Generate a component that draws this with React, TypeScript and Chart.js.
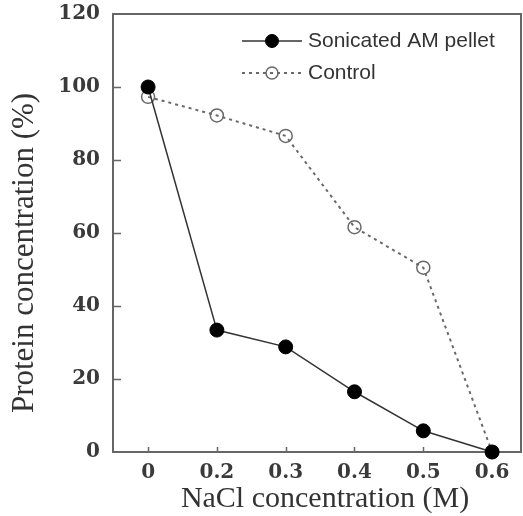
import React, { useEffect, useRef } from 'react';
import { Chart, registerables } from 'chart.js';

Chart.register(...registerables);

const xLabels = ['0', '0.2', '0.3', '0.4', '0.5', '0.6'];
const sonicatedValues = [100, 33.4, 28.8, 16.5, 5.8, 0];
const controlValues = [97.3, 92.2, 86.6, 61.6, 50.5, 0];
const seriesNames = ['Sonicated AM pellet', 'Control'];
const yTickValues = [0, 20, 40, 60, 80, 100, 120];
const xTitle = 'NaCl concentration (M)';
const yTitle = 'Protein concentration (%)';

const frameColor = '#666666';
const textColor = '#333333';

const framePlugin = {
  id: 'frameTicks',
  beforeDatasetsDraw(chart: any) {
    const { ctx, chartArea, scales } = chart;
    const { left, right, top, bottom } = chartArea;
    ctx.save();
    ctx.strokeStyle = frameColor;
    ctx.lineWidth = 2;
    ctx.strokeRect(left, top, right - left, bottom - top);
    ctx.lineWidth = 1.5;
    ctx.beginPath();
    scales.y.ticks.forEach((t: any) => {
      if (t.value <= 0 || t.value >= 120) return;
      const py = Math.round(scales.y.getPixelForValue(t.value)) + 0.5;
      ctx.moveTo(left, py);
      ctx.lineTo(left + 8, py);
    });
    scales.x.ticks.forEach((t: any) => {
      const px = Math.round(scales.x.getPixelForValue(t.value)) + 0.5;
      ctx.moveTo(px, bottom);
      ctx.lineTo(px, bottom - 5);
    });
    ctx.stroke();
    ctx.restore();
  },
};

const titlesLegendPlugin = {
  id: 'titlesLegend',
  afterDraw(chart: any) {
    const { ctx, chartArea } = chart;
    const { left, right, top, bottom } = chartArea;
    ctx.save();
    // axis titles
    ctx.fillStyle = textColor;
    ctx.textAlign = 'center';
    ctx.textBaseline = 'middle';
    ctx.font = '30px "Liberation Serif", serif';
    ctx.fillText(xTitle, (left + right) / 2 + 8, bottom + 47);
    ctx.save();
    ctx.font = '31px "Liberation Serif", serif';
    ctx.translate(left - 88, (top + bottom) / 2 + 20);
    ctx.rotate(-Math.PI / 2);
    ctx.fillText(yTitle, 0, 0);
    ctx.restore();

    // legend
    const ds = chart.data.datasets;
    const x0 = left + 129;
    const x1 = left + 189;
    const xm = left + 159;
    const rows = [top + 27, top + 59];
    ds.forEach((d: any, i: number) => {
      const y = rows[i];
      ctx.save();
      ctx.strokeStyle = d.borderColor;
      ctx.lineWidth = d.borderWidth;
      ctx.setLineDash(d.borderDash || []);
      ctx.beginPath();
      ctx.moveTo(x0, y);
      ctx.lineTo(x1, y);
      ctx.stroke();
      ctx.setLineDash([]);
      ctx.beginPath();
      ctx.arc(xm, y, d.pointRadius - 0.5, 0, Math.PI * 2);
      ctx.fillStyle = d.pointBackgroundColor;
      ctx.fill();
      ctx.lineWidth = d.pointBorderWidth;
      ctx.strokeStyle = d.pointBorderColor;
      ctx.stroke();
      ctx.restore();
      ctx.fillStyle = textColor;
      ctx.font = '21px "Liberation Sans", sans-serif';
      ctx.textAlign = 'left';
      ctx.textBaseline = 'middle';
      ctx.fillText(d.label, x1 + 6, y);
    });
    ctx.restore();
  },
};

export default function App() {
  const canvasRef = useRef<HTMLCanvasElement | null>(null);

  useEffect(() => {
    if (!canvasRef.current) return;
    const chart = new Chart(canvasRef.current, {
      type: 'line',
      data: {
        datasets: [
          {
            label: seriesNames[0],
            data: sonicatedValues.map((y, i) => ({ x: i, y })),
            borderColor: '#333333',
            borderWidth: 1.5,
            pointRadius: 7,
            pointHoverRadius: 7,
            pointBackgroundColor: '#000000',
            pointBorderColor: '#000000',
            pointBorderWidth: 1,
            tension: 0,
            fill: false,
            clip: false,
          },
          {
            label: seriesNames[1],
            data: controlValues.map((y, i) => ({ x: i, y })),
            borderColor: '#6a6a6a',
            borderWidth: 2,
            borderDash: [3, 4],
            pointRadius: 6.5,
            pointHoverRadius: 6.5,
            pointBackgroundColor: 'rgba(255,255,255,0)',
            pointBorderColor: '#6a6a6a',
            pointBorderWidth: 1.5,
            tension: 0,
            fill: false,
            clip: false,
          },
        ],
      } as any,
      options: {
        animation: false,
        responsive: false,
        events: [],
        layout: { autoPadding: false, padding: { left: 0, right: 2, top: 14, bottom: 0 } },
        plugins: { legend: { display: false }, tooltip: { enabled: false } },
        scales: {
          x: {
            type: 'linear',
            min: -0.51,
            max: 5.42,
            afterBuildTicks: (scale: any) => {
              scale.ticks = xLabels.map((_, i) => ({ value: i }));
            },
            afterFit: (scale: any) => {
              scale.height = 64;
              scale.paddingLeft = 0;
              scale.paddingRight = 0;
            },
            grid: { display: false, drawTicks: false },
            border: { display: false },
            ticks: {
              autoSkip: false,
              maxRotation: 0,
              padding: 9,
              color: '#3a3a3a',
              font: { family: '"DejaVu Serif", serif', size: 20, weight: 'bold' },
              callback: (v: any) => xLabels[v] ?? '',
            },
          },
          y: {
            type: 'linear',
            min: 0,
            max: 120,
            afterBuildTicks: (scale: any) => {
              scale.ticks = yTickValues.map((v) => ({ value: v }));
            },
            afterFit: (scale: any) => {
              scale.width = 113;
              scale.paddingTop = 0;
              scale.paddingBottom = 0;
            },
            grid: { display: false, drawTicks: false },
            border: { display: false },
            ticks: {
              padding: 13,
              color: '#3a3a3a',
              font: { family: '"DejaVu Serif", serif', size: 20, weight: 'bold' },
            },
          },
        },
      },
      plugins: [framePlugin, titlesLegendPlugin],
    } as any);
    return () => chart.destroy();
  }, []);

  return (
    <div style={{ position: 'absolute', left: 0, top: 0, width: 523, height: 516, background: '#fff' }}>
      <canvas ref={canvasRef} width={523} height={516} style={{ display: 'block' }} />
    </div>
  );
}
